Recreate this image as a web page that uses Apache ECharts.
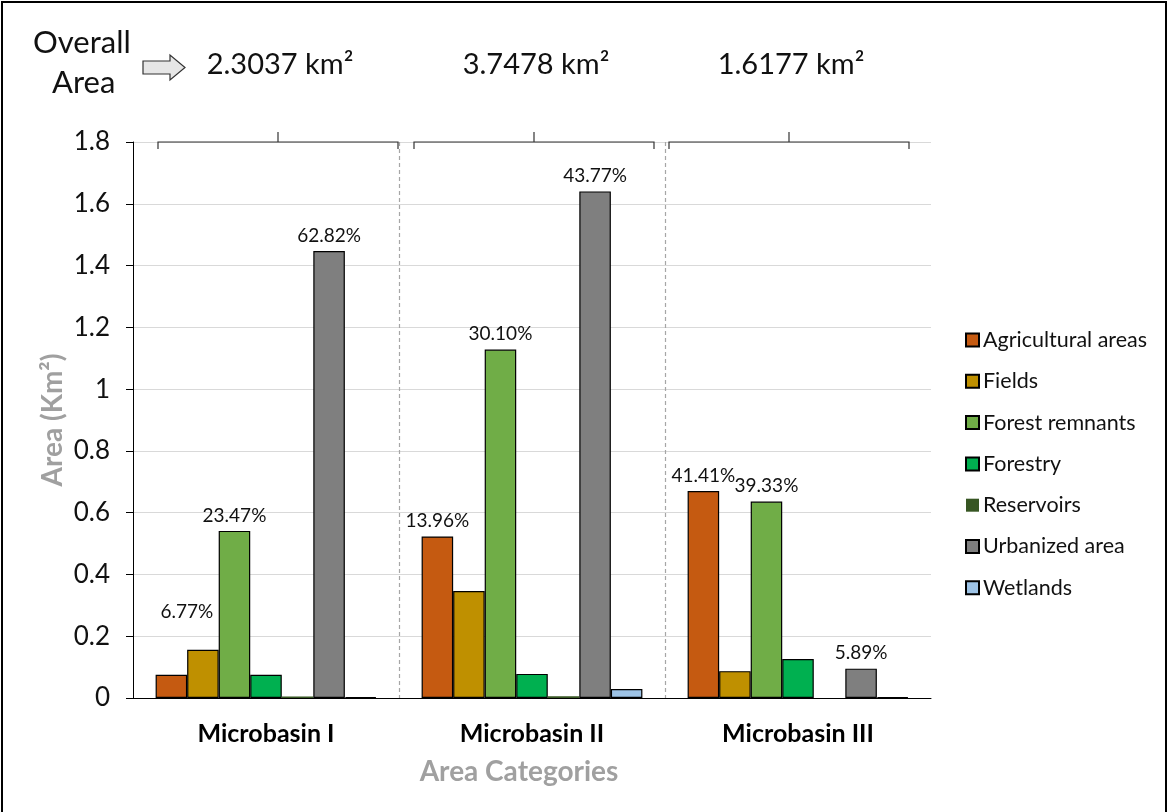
<!DOCTYPE html>
<html>
<head>
<meta charset="utf-8">
<script src="https://cdn.jsdelivr.net/npm/echarts@6/dist/echarts.min.js"></script>
<style>
  body { margin: 0; background: #fff; }
  #wrap { position: relative; width: 1168px; height: 812px; overflow: hidden; }
  #chart { position: absolute; left: 0; top: 0; width: 1168px; height: 812px; }
  #frame { position: absolute; left: 1px; top: 1px; width: 1162px; height: 830px; border: 2px solid #000; pointer-events: none; }
</style>
</head>
<body>
<div id="wrap">
  <div id="chart"></div>
  <div id="frame"></div>
</div>
<script>
// categories (x axis)
const basins = ['Microbasin I', 'Microbasin II', 'Microbasin III']
// overall area of each microbasin, shown above the groups
const totals = ['2.3037 km²', '3.7478 km²', '1.6177 km²']

// land use classes
const classes = ['Agricultural areas', 'Fields', 'Forest remnants', 'Forestry', 'Reservoirs', 'Urbanized area', 'Wetlands']
const colors = ['#C55A11', '#BF9000', '#70AD47', '#00B050', '#375623', '#7F7F7F', '#9DC3E6']

// area (km²) per class, one value per microbasin
const agricultural = [0.075, 0.523, 0.670]
const fields = [0.156, 0.346, 0.087]
const forestRemnants = [0.541, 1.128, 0.636]
const forestry = [0.075, 0.078, 0.126]
const reservoirs = [0.005, 0.006, 0]
const urbanized = [1.447, 1.640, 0.095]
const wetlands = [0.003, 0.029, 0.003]

// percentage labels written above some bars
const agriculturalPct = ['', '13.96%', '41.41%']
const fieldsPct = ['6.77%', '', '']
const forestRemnantsPct = ['23.47%', '30.10%', '39.33%']
const urbanizedPct = ['62.82%', '43.77%', '5.89%']

const values = [agricultural, fields, forestRemnants, forestry, reservoirs, urbanized, wetlands]
const pcts = [agriculturalPct, fieldsPct, forestRemnantsPct, null, null, urbanizedPct, null]

const FONT = 'Lato'

const chartDom = document.getElementById('chart')
const myChart = echarts.init(chartDom)

const series = classes.map((name, i) => ({
  name: name,
  type: 'bar',
  xAxisIndex: 0,
  barGap: '0%',
  barCategoryGap: '17%',
  itemStyle: {
    color: colors[i],
    borderColor: i === 4 ? colors[i] : '#000',
    borderWidth: i === 4 ? 0 : 1.2,
  },
  label: {
    show: !!pcts[i],
    position: 'top',
    distance: 6,
    fontFamily: FONT,
    fontSize: 19,
    color: '#111',
    formatter: (p) => (pcts[i] ? pcts[i][p.dataIndex] : ''),
  },
  data: values[i].map((v, j) => {
    // the 6.77% label sits a bit higher and to the left in the source
    if (i === 1 && j === 0) return { value: v, label: { offset: [-16, -22] } }
    return v
  }),
}))

const option = {
  animation: false,
  textStyle: { fontFamily: FONT },
  grid: { left: 133, right: 237, top: 142, bottom: 114 },
  legend: {
    orient: 'vertical',
    left: 960,
    top: 324,
    itemWidth: 13,
    itemHeight: 13,
    itemGap: 19.3,
    icon: 'rect',
    textStyle: { fontFamily: FONT, fontSize: 21.5, color: '#111', padding: [0, 0, 0, -1] },
    data: classes,
  },
  xAxis: [
    {
      type: 'category',
      data: basins,
      axisLine: { lineStyle: { color: '#000', width: 1 } },
      axisTick: { show: false },
      axisLabel: { fontFamily: FONT, fontSize: 25, fontWeight: 'bold', color: '#000', margin: 23 },
      name: 'Area Categories',
      nameLocation: 'middle',
      nameGap: 60,
      nameTextStyle: { fontFamily: FONT, fontSize: 28, fontWeight: 'bold', color: '#a0a0a0', padding: [0, 26, 0, 0] },
    },
    {
      // hidden helper axis only used for the dashed separators between groups
      type: 'value',
      position: 'top',
      min: 0,
      max: 3,
      interval: 1,
      axisLine: { show: false },
      axisTick: { show: false },
      axisLabel: { show: false },
      splitLine: {
        show: true,
        showMinLine: false,
        showMaxLine: false,
        lineStyle: { color: '#a6a6a6', type: [4, 3], width: 1.2 },
      },
    },
  ],
  yAxis: {
    type: 'value',
    min: 0,
    max: 1.8,
    interval: 0.2,
    axisLine: { show: true, lineStyle: { color: '#000', width: 1 } },
    axisTick: { show: true, length: 7, lineStyle: { color: '#000' } },
    axisLabel: {
      fontFamily: FONT,
      fontSize: 26,
      color: '#111',
      margin: 23,
      formatter: (v) => String(Math.round(v * 10) / 10),
    },
    splitLine: { lineStyle: { color: '#d9d9d9', width: 1 } },
    name: 'Area (Km²)',
    nameLocation: 'middle',
    nameGap: 66,
    nameMoveOverlap: false,
    nameTextStyle: { fontFamily: FONT, fontSize: 28, fontWeight: 'bold', color: '#a0a0a0' },
  },
  series: series,
}

myChart.setOption(option)

// header texts, arrow and the brackets over each microbasin
const drawAnnotations = () => {
  const topY = myChart.convertToPixel({ yAxisIndex: 0 }, 1.8)
  const headerShift = [12, 2, -9]
  const elements = [
    { type: 'text', left: 33, top: 27, style: { text: 'Overall', font: '31px ' + FONT, fill: '#111' } },
    { type: 'text', left: 52, top: 67, style: { text: 'Area', font: '31px ' + FONT, fill: '#111' } },
    {
      type: 'polygon',
      shape: { points: [[143, 61], [170, 61], [170, 55], [185, 67.5], [170, 80], [170, 74], [143, 74]] },
      style: { fill: '#e6e6e6', stroke: '#333', lineWidth: 1.2 },
    },
  ]
  basins.forEach((b, j) => {
    const cx = myChart.convertToPixel({ xAxisIndex: 0 }, b) + headerShift[j]
    elements.push({
      type: 'text',
      x: cx + 2,
      y: 65,
      style: { text: totals[j], font: '29px ' + FONT, fill: '#111', align: 'center', verticalAlign: 'middle' },
    })
    const x0 = cx - 120
    const x1 = cx + 120
    elements.push({
      type: 'polyline',
      shape: { points: [[x0, topY + 7], [x0, topY], [x1, topY], [x1, topY + 7]] },
      style: { stroke: '#333', lineWidth: 1.2, fill: null },
    })
    elements.push({
      type: 'line',
      shape: { x1: cx, y1: topY, x2: cx, y2: topY - 10 },
      style: { stroke: '#333', lineWidth: 1.2 },
    })
  })
  myChart.setOption({ graphic: elements })
}
drawAnnotations()
</script>
</body>
</html>
